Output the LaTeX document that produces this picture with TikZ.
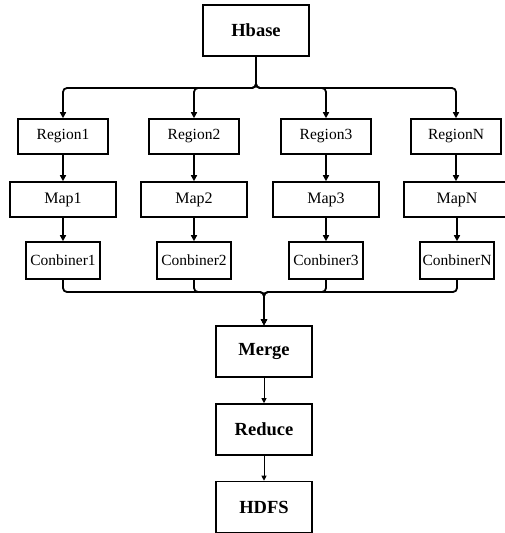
\documentclass[tikz,border=0pt]{standalone}
\usepackage{fontspec}
\setmainfont{Liberation Serif}
\usetikzlibrary{arrows.meta}
\begin{document}
\begin{tikzpicture}[x=1pt,y=-1pt,
  box/.style={draw,line width=1.6pt,inner sep=0pt,anchor=center},
  bigbox/.style={box,minimum width=106pt,minimum height=51pt,font=\fontsize{18.5}{20}\selectfont\bfseries},
  regbox/.style={box,minimum width=90pt,minimum height=35pt,font=\fontsize{15.5}{17}\selectfont},
  mapbox/.style={box,minimum width=106pt,minimum height=35pt,font=\fontsize{16}{17}\selectfont},
  conbox/.style={box,minimum width=74pt,minimum height=37pt,font=\fontsize{15.5}{17}\selectfont},
  midbox/.style={box,minimum width=96pt,minimum height=51pt,font=\fontsize{18.5}{20}\selectfont\bfseries},
  thick arrow/.style={line width=1.8pt,-{Triangle[length=6pt,width=6pt]}},
  thin arrow/.style={line width=1pt,-{Triangle[length=5pt,width=5pt]}},
  bus/.style={line width=1.8pt,rounded corners=4pt,-{Triangle[length=6pt,width=6pt]}}]
\useasboundingbox (0,0) rectangle (505,533);
\node[bigbox] (hb) at (256,30.5) {Hbase};
\coordinate (b1) at (256,88);
\foreach \i/\x/\t in {1/63/1,2/194/2,3/326/3,4/456/N}{
  \node[regbox] (r\i) at (\x,136.5) {Region\t};
}
\foreach \i/\x/\t in {1/63/1,2/194/2,3/326/3,4/457/N}{
  \node[mapbox] (m\i) at (\x,199.5) {Map\t};
}
\foreach \i/\x/\t in {1/63/1,2/194/2,3/326/3,4/457/N}{
  \node[conbox] (c\i) at (\x,260.5) {Conbiner\t};
}
\node[midbox] (mg) at (264,351.5) {Merge};
\node[midbox] (rd) at (264,429.5) {Reduce};
\node[midbox] (hd) at (264,507) {HDFS};
\coordinate (b2) at (264,292);
\foreach \i in {1,2,3,4}{
  \draw[bus] (hb.south) -- (b1) -| (r\i.north);
  \draw[thick arrow] (r\i.south) -- (r\i.south |- m\i.north);
  \draw[thick arrow] (m\i.south) -- (m\i.south |- c\i.north);
  \draw[bus] (c\i.south) |- (b2) -- (mg.north);
}
\draw[thin arrow] (mg.south) -- (rd.north);
\draw[thin arrow] (rd.south) -- (hd.north);
\end{tikzpicture}
\end{document}
